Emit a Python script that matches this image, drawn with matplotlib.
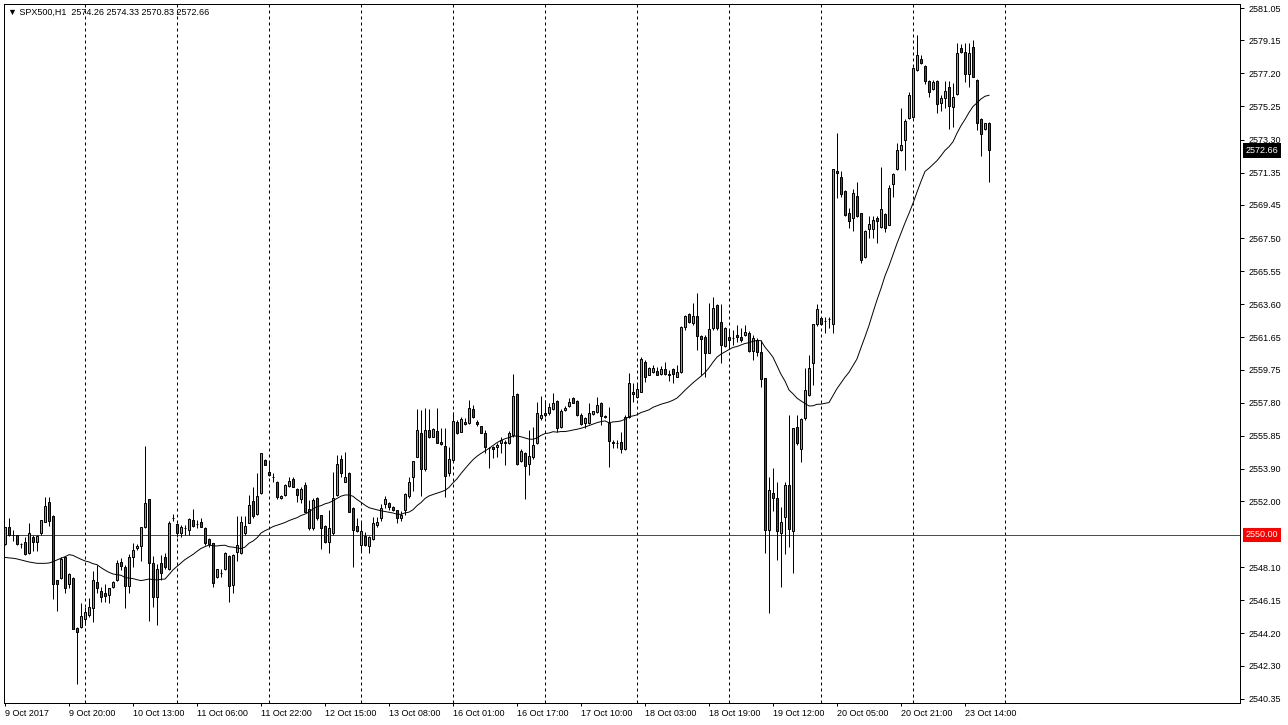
import numpy as np
import pandas as pd
import matplotlib
matplotlib.use('Agg')
import matplotlib.pyplot as plt
import matplotlib.transforms as mtransforms

# SPX500 H1 candles, 9 Oct 2017 -> 23 Oct 2017
opens = [
    2549.47, 2550.45, 2550.00, 2550.00, 2549.47, 2549.57, 2548.96, 2549.86, 2549.57, 2550.10,
    2550.79, 2551.93, 2551.12, 2547.35, 2547.45, 2548.72, 2547.09, 2547.45, 2544.50, 2544.56,
    2545.03, 2545.29, 2545.68, 2547.21, 2546.70, 2546.60, 2546.46, 2546.95, 2547.35, 2548.43,
    2548.13, 2546.99, 2548.72, 2549.21, 2549.35, 2550.49, 2552.10, 2548.33, 2546.37, 2548.33,
    2548.69, 2547.98, 2550.98, 2550.63, 2550.10, 2550.39, 2550.29, 2550.88, 2550.65, 2550.75,
    2550.39, 2549.75, 2549.55, 2547.51, 2547.74, 2547.98, 2548.76, 2547.05, 2549.02, 2548.96,
    2550.10, 2550.73, 2552.00, 2551.24, 2552.49, 2554.42, 2553.73, 2553.40, 2553.14, 2552.16,
    2552.36, 2552.89, 2553.28, 2552.69, 2552.10, 2552.95, 2551.51, 2550.39, 2552.16, 2551.18,
    2550.53, 2549.61, 2550.10, 2552.36, 2554.46, 2553.14, 2553.64, 2551.57, 2550.53, 2549.41,
    2549.94, 2549.35, 2549.75, 2550.59, 2551.00, 2551.83, 2551.90, 2551.63, 2551.47, 2551.00,
    2551.47, 2552.30, 2553.40, 2554.62, 2556.03, 2553.87, 2556.19, 2555.80, 2556.15, 2555.50,
    2555.24, 2553.64, 2554.40, 2556.68, 2556.09, 2556.68, 2556.62, 2557.41, 2556.68, 2556.42,
    2556.03, 2555.11, 2555.17, 2555.17, 2555.44, 2555.50, 2555.40, 2555.90, 2558.31, 2554.38,
    2554.81, 2554.18, 2554.60, 2555.40, 2556.88, 2557.21, 2557.17, 2557.41, 2557.91, 2556.35,
    2557.37, 2557.60, 2558.06, 2557.91, 2557.07, 2556.62, 2556.62, 2557.13, 2557.27, 2557.80,
    2557.01, 2556.62, 2555.50, 2555.40, 2555.50, 2555.05, 2556.97, 2558.40, 2558.15, 2558.44,
    2560.21, 2559.43, 2559.62, 2559.68, 2559.49, 2559.76, 2559.49, 2559.76, 2559.33, 2559.60,
    2562.24, 2563.02, 2562.47, 2562.90, 2561.73, 2561.69, 2560.74, 2562.18, 2563.55, 2562.57,
    2561.14, 2561.65, 2561.60, 2561.79, 2561.69, 2561.79, 2561.92, 2560.86, 2561.49, 2560.80,
    2559.23, 2550.29, 2552.49, 2552.16, 2550.14, 2551.08, 2552.95, 2550.25, 2556.38, 2555.05,
    2556.88, 2558.25, 2560.12, 2562.43, 2562.77, 2562.63, 2562.71, 2562.43, 2571.47, 2571.08,
    2570.29, 2568.99, 2568.66, 2569.98, 2568.99, 2566.40, 2568.02, 2568.02, 2568.66, 2568.17,
    2568.92, 2568.27, 2570.68, 2571.55, 2572.70, 2573.27, 2574.55, 2574.65, 2577.40, 2578.03,
    2577.64, 2576.77, 2576.26, 2576.77, 2575.47, 2575.73, 2576.41, 2575.20, 2575.99, 2578.68,
    2578.48, 2577.17, 2578.74, 2576.81, 2574.50, 2573.91, 2574.26,
]
highs = [
    2550.50, 2550.98, 2550.29, 2550.00, 2549.55, 2549.86, 2550.72, 2550.00, 2550.00, 2550.88,
    2552.22, 2552.25, 2551.20, 2547.35, 2548.69, 2548.76, 2547.74, 2547.51, 2544.60, 2546.01,
    2545.74, 2546.27, 2547.90, 2548.23, 2546.92, 2547.11, 2546.86, 2547.30, 2548.53, 2548.62,
    2548.23, 2548.88, 2549.55, 2549.47, 2550.45, 2555.24, 2552.10, 2548.76, 2548.29, 2548.82,
    2548.96, 2550.80, 2551.24, 2550.70, 2550.59, 2550.59, 2550.98, 2551.51, 2550.88, 2550.98,
    2550.49, 2549.85, 2549.55, 2547.98, 2547.98, 2549.02, 2548.82, 2548.88, 2551.12, 2551.12,
    2551.12, 2552.36, 2552.85, 2553.64, 2554.85, 2554.50, 2554.38, 2553.64, 2553.20, 2552.35,
    2553.00, 2553.40, 2553.40, 2552.75, 2552.85, 2553.14, 2552.06, 2552.16, 2552.25, 2551.20,
    2550.60, 2551.47, 2553.73, 2554.71, 2554.71, 2554.91, 2553.70, 2551.67, 2550.98, 2550.80,
    2550.20, 2549.95, 2551.08, 2551.08, 2551.80, 2552.30, 2551.95, 2551.70, 2551.50, 2551.40,
    2552.50, 2553.44, 2554.38, 2557.40, 2557.37, 2557.47, 2557.40, 2556.30, 2557.47, 2556.29,
    2556.29, 2555.20, 2557.27, 2556.75, 2556.97, 2556.92, 2557.96, 2557.66, 2556.78, 2556.45,
    2556.19, 2555.20, 2555.27, 2555.44, 2555.76, 2555.60, 2556.10, 2559.49, 2558.35, 2555.05,
    2554.90, 2556.19, 2556.38, 2557.86, 2558.19, 2557.96, 2557.80, 2558.39, 2557.95, 2557.40,
    2557.60, 2558.06, 2558.11, 2557.95, 2557.17, 2556.97, 2557.80, 2557.32, 2558.11, 2557.85,
    2557.10, 2557.56, 2555.60, 2555.60, 2556.09, 2557.07, 2559.53, 2558.94, 2558.94, 2560.47,
    2560.31, 2559.90, 2560.02, 2559.90, 2559.96, 2560.21, 2559.72, 2559.85, 2560.02, 2562.32,
    2562.96, 2563.10, 2563.69, 2564.24, 2561.80, 2561.79, 2563.69, 2564.00, 2563.61, 2563.61,
    2562.25, 2562.12, 2562.10, 2562.37, 2562.20, 2562.37, 2562.00, 2561.80, 2561.59, 2561.49,
    2559.23, 2553.40, 2553.93, 2553.14, 2551.67, 2553.14, 2557.07, 2556.29, 2557.07, 2556.90,
    2559.82, 2560.61, 2562.43, 2563.61, 2562.86, 2562.86, 2562.86, 2571.55, 2573.67, 2571.47,
    2570.35, 2569.25, 2570.37, 2570.82, 2569.00, 2567.95, 2568.80, 2568.80, 2568.80, 2571.70,
    2568.95, 2570.62, 2571.35, 2573.08, 2575.19, 2574.50, 2576.12, 2577.56, 2579.46, 2578.29,
    2577.70, 2576.80, 2576.81, 2576.80, 2575.93, 2576.77, 2576.77, 2576.62, 2578.97, 2578.93,
    2578.97, 2578.97, 2579.15, 2576.85, 2574.55, 2574.30, 2574.33,
]
lows = [
    2549.40, 2549.94, 2549.66, 2549.41, 2549.21, 2548.82, 2548.88, 2549.08, 2549.08, 2550.00,
    2550.74, 2550.53, 2546.21, 2545.54, 2547.40, 2546.60, 2546.86, 2544.44, 2541.22, 2544.50,
    2544.70, 2545.15, 2544.89, 2546.60, 2546.07, 2546.07, 2546.01, 2546.90, 2547.30, 2547.94,
    2545.68, 2546.56, 2548.13, 2549.12, 2548.49, 2550.40, 2544.95, 2545.78, 2544.70, 2547.35,
    2547.98, 2547.95, 2550.84, 2549.90, 2549.88, 2550.00, 2550.00, 2550.49, 2550.39, 2550.45,
    2549.41, 2549.27, 2546.92, 2547.45, 2547.51, 2547.95, 2546.07, 2546.56, 2548.49, 2548.90,
    2550.00, 2550.70, 2550.98, 2551.20, 2552.40, 2554.10, 2553.50, 2553.14, 2552.10, 2552.10,
    2552.30, 2552.85, 2552.80, 2551.96, 2551.90, 2551.37, 2550.30, 2550.30, 2550.88, 2549.16,
    2549.51, 2548.92, 2550.00, 2552.30, 2553.40, 2553.10, 2551.37, 2548.13, 2550.20, 2549.02,
    2549.35, 2548.96, 2549.70, 2550.50, 2550.80, 2551.60, 2551.50, 2551.40, 2550.70, 2550.80,
    2551.20, 2552.20, 2552.61, 2554.60, 2552.30, 2553.80, 2555.70, 2555.80, 2555.40, 2555.30,
    2552.22, 2553.50, 2554.30, 2555.95, 2556.05, 2556.50, 2556.55, 2556.90, 2556.42, 2555.99,
    2554.81, 2553.93, 2554.52, 2554.62, 2554.81, 2554.12, 2555.35, 2555.76, 2554.12, 2554.30,
    2552.10, 2553.54, 2554.50, 2555.35, 2556.80, 2556.95, 2557.05, 2557.35, 2556.09, 2556.30,
    2557.30, 2557.55, 2557.75, 2557.01, 2556.48, 2556.29, 2556.55, 2557.10, 2557.20, 2556.48,
    2556.90, 2554.02, 2555.11, 2555.10, 2554.81, 2555.00, 2556.88, 2557.86, 2558.10, 2558.40,
    2559.04, 2559.40, 2559.55, 2559.40, 2559.45, 2559.45, 2559.09, 2558.98, 2559.30, 2559.55,
    2562.10, 2562.50, 2562.40, 2560.90, 2559.43, 2559.33, 2560.70, 2562.10, 2562.10, 2560.12,
    2561.10, 2561.10, 2561.20, 2561.39, 2561.39, 2561.70, 2560.80, 2560.31, 2560.55, 2558.70,
    2548.96, 2545.39, 2551.43, 2548.53, 2546.95, 2548.88, 2549.31, 2547.78, 2555.30, 2554.32,
    2556.80, 2558.20, 2558.84, 2562.30, 2562.40, 2561.92, 2562.18, 2561.92, 2569.84, 2569.90,
    2568.80, 2568.07, 2567.93, 2568.75, 2566.01, 2566.35, 2567.48, 2567.48, 2567.19, 2568.10,
    2567.87, 2568.25, 2569.90, 2571.50, 2572.65, 2571.51, 2574.50, 2574.60, 2577.35, 2577.75,
    2576.58, 2575.83, 2576.20, 2574.85, 2575.00, 2575.15, 2573.91, 2574.03, 2575.90, 2578.40,
    2576.71, 2576.41, 2577.01, 2573.86, 2572.33, 2573.85, 2570.83,
]
closes = [
    2550.45, 2550.00, 2550.00, 2549.47, 2549.47, 2548.88, 2550.10, 2549.57, 2549.94, 2550.88,
    2551.71, 2550.84, 2547.11, 2547.11, 2548.59, 2546.86, 2547.68, 2544.44, 2544.30, 2545.23,
    2545.44, 2545.74, 2547.35, 2546.86, 2546.33, 2546.41, 2546.86, 2547.21, 2548.33, 2548.17,
    2546.99, 2548.72, 2549.12, 2549.35, 2550.45, 2551.87, 2548.33, 2546.37, 2547.98, 2547.78,
    2548.10, 2550.73, 2550.98, 2550.14, 2550.45, 2550.39, 2550.92, 2550.55, 2550.65, 2550.49,
    2549.51, 2549.47, 2547.19, 2547.98, 2547.74, 2548.96, 2546.99, 2548.82, 2549.41, 2550.79,
    2550.53, 2551.77, 2551.12, 2552.30, 2554.85, 2554.12, 2553.54, 2553.40, 2552.26, 2552.30,
    2552.95, 2553.20, 2552.85, 2552.36, 2552.69, 2551.37, 2550.39, 2552.06, 2550.98, 2550.39,
    2549.61, 2550.39, 2552.16, 2554.18, 2553.64, 2553.40, 2551.37, 2550.29, 2550.25, 2550.25,
    2549.41, 2549.90, 2550.73, 2550.79, 2551.60, 2552.10, 2551.67, 2551.47, 2551.00, 2551.20,
    2552.42, 2553.14, 2554.38, 2556.19, 2553.87, 2556.19, 2555.76, 2556.23, 2555.44, 2555.36,
    2553.48, 2554.46, 2556.74, 2555.99, 2556.82, 2556.54, 2557.50, 2556.94, 2556.54, 2556.03,
    2555.17, 2555.11, 2555.05, 2555.30, 2555.60, 2555.45, 2556.03, 2558.19, 2554.18, 2554.97,
    2554.06, 2554.65, 2555.30, 2557.17, 2557.07, 2557.07, 2557.52, 2557.80, 2556.29, 2557.32,
    2557.50, 2557.86, 2557.80, 2557.07, 2556.54, 2556.88, 2557.17, 2557.32, 2557.66, 2557.01,
    2556.94, 2555.56, 2555.40, 2555.40, 2555.05, 2556.94, 2558.94, 2558.30, 2558.59, 2560.35,
    2559.33, 2559.82, 2559.82, 2559.43, 2559.76, 2559.50, 2559.41, 2559.49, 2559.59, 2562.24,
    2562.90, 2562.57, 2562.90, 2561.73, 2561.55, 2560.74, 2562.12, 2563.36, 2562.18, 2561.20,
    2562.18, 2561.49, 2561.60, 2561.65, 2561.49, 2561.98, 2560.86, 2561.59, 2560.80, 2559.17,
    2550.29, 2552.65, 2552.16, 2550.25, 2550.79, 2552.95, 2550.33, 2556.29, 2555.40, 2556.82,
    2558.54, 2559.82, 2562.43, 2563.30, 2562.43, 2562.63, 2562.71, 2571.55, 2571.31, 2570.09,
    2568.86, 2568.52, 2570.13, 2568.80, 2566.21, 2567.93, 2568.33, 2568.56, 2568.52, 2569.19,
    2568.07, 2570.43, 2571.27, 2572.69, 2573.00, 2574.41, 2575.94, 2577.50, 2578.29, 2577.80,
    2576.77, 2576.12, 2576.71, 2575.40, 2575.73, 2576.18, 2575.28, 2575.79, 2578.39, 2578.48,
    2577.17, 2578.39, 2577.01, 2574.26, 2573.63, 2574.26, 2572.66,
]
# 24-period SMA for the first 23 bars (its history lies before the chart start)
ma_head = [
    2548.68, 2548.65, 2548.63, 2548.59, 2548.53, 2548.47, 2548.41, 2548.37, 2548.33, 2548.33,
    2548.33, 2548.35, 2548.43, 2548.53, 2548.63, 2548.72, 2548.84, 2548.80, 2548.68, 2548.57,
    2548.47, 2548.41, 2548.31,
]
ma_period = 24

price_ticks = [2581.05, 2579.15, 2577.20, 2575.25, 2573.30, 2571.35, 2569.45, 2567.50,
               2565.55, 2563.60, 2561.65, 2559.75, 2557.80, 2555.85, 2553.90, 2552.00,
               2548.10, 2546.15, 2544.20, 2542.30, 2540.35]
time_labels = ['9 Oct 2017', '9 Oct 20:00', '10 Oct 13:00', '11 Oct 06:00', '11 Oct 22:00',
               '12 Oct 15:00', '13 Oct 08:00', '16 Oct 01:00', '16 Oct 17:00', '17 Oct 10:00',
               '18 Oct 03:00', '18 Oct 19:00', '19 Oct 12:00', '20 Oct 05:00', '20 Oct 21:00',
               '23 Oct 14:00']
hline_level = 2550.00

o = np.array(opens)
h = np.array(highs)
l = np.array(lows)
c = np.array(closes)
h = np.maximum.reduce([h, o, c])
l = np.minimum.reduce([l, o, c])
n = len(c)
x = np.arange(n)

ma = pd.Series(c).rolling(ma_period).mean().to_numpy()
ma[:len(ma_head)] = ma_head

plt.rcParams['font.family'] = ['Liberation Sans', 'DejaVu Sans']

W, H = 1288, 725
fig = plt.figure(figsize=(W / 100, H / 100), dpi=100)
ax = fig.add_axes([4 / W, 22 / H, 1236 / W, 699 / H])
px = 0.72  # one pixel in points

# grid: dashed verticals every 23 bars
for b in range(20, n + 10, 23):
    ax.axvline(b, color='black', lw=px, ls=(0, (3, 3)), zorder=0)

ax.axhline(hline_level, color='red', lw=px, zorder=1)

up = c >= o
ax.vlines(x, l, h, color='black', lw=px, zorder=2)
ax.bar(x[up], (c - o)[up], bottom=o[up], width=0.5, color='#00ff00',
       edgecolor='black', lw=px, zorder=3)
ax.bar(x[~up], (c - o)[~up], bottom=o[~up], width=0.5, color='#ff0000',
       edgecolor='black', lw=px, zorder=3)

ax.plot(x, ma, color='black', lw=0.7, zorder=4)

ax.set_xlim(-0.25, 308.75)
ax.set_ylim(2540.10, 2581.29)

for s in ax.spines.values():
    s.set_linewidth(px)

ax.yaxis.tick_right()
ax.set_yticks(price_ticks)
ax.set_yticklabels(['%.2f' % v for v in price_ticks])
ax.tick_params(axis='y', length=3, width=px, labelsize=6.5, pad=3)

ax.set_xticks(np.arange(len(time_labels)) * 16)
ax.set_xticklabels(time_labels, ha='left')
ax.tick_params(axis='x', length=2.5, width=px, labelsize=6.5, pad=1.5)

trans = mtransforms.blended_transform_factory(ax.transAxes, ax.transData)
ax.text(1.0 + 6 / 1236, hline_level, '%.2f' % hline_level, transform=trans,
        va='center', ha='left', color='white', fontsize=6.5, clip_on=False, zorder=6,
        bbox=dict(boxstyle='square,pad=0.3', fc='red', ec='none'))
ax.text(1.0 + 6 / 1236, c[-1], '%.2f' % c[-1], transform=trans,
        va='center', ha='left', color='white', fontsize=6.5, clip_on=False, zorder=6,
        bbox=dict(boxstyle='square,pad=0.3', fc='black', ec='none'))

fig.text(8 / W, 1 - 12 / H, '\u25bc SPX500,H1  %.2f %.2f %.2f %.2f' % (o[-1], h[-1], l[-1], c[-1]),
         fontsize=6.5, va='center', ha='left')

fig.savefig('out.png', dpi=100, facecolor='white')
